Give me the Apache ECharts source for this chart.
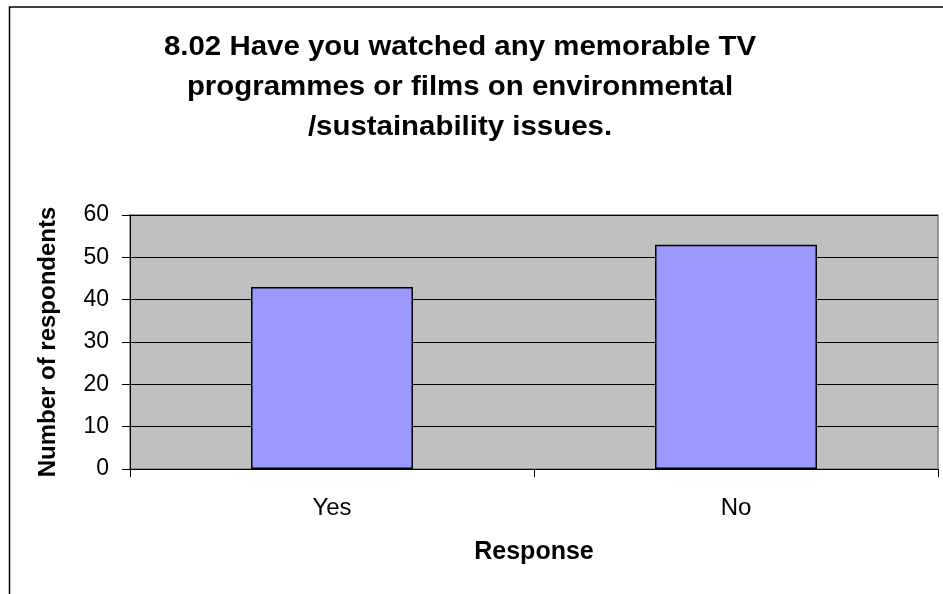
<!DOCTYPE html>
<html>
<head>
<meta charset="utf-8">
<script src="https://cdn.jsdelivr.net/npm/echarts@6/dist/echarts.min.js"></script>
<style>
  html, body { margin: 0; padding: 0; background: #fff; }
  #chart { width: 943px; height: 594px; }
</style>
</head>
<body>
<div id="chart"></div>
<script>
const categories = ['Yes', 'No'];
const respondents = [43, 53];
const yTicks = { min: 0, max: 60, interval: 10 };
const titleText = '8.02 Have you watched any memorable TV\nprogrammes or films on environmental\n/sustainability issues.';
const xName = 'Response';
const yName = 'Number of respondents';

const font = '"Liberation Sans", Arial, sans-serif';
const chart = echarts.init(document.getElementById('chart'));

chart.setOption({
  backgroundColor: '#ffffff',
  animation: false,
  graphic: [
    {
      // outer chart frame
      type: 'rect',
      shape: { x: 9.5, y: 7, width: 1000, height: 700 },
      style: { fill: 'none', stroke: '#000', lineWidth: 1.5 },
      silent: true
    },
    {
      // three-line heading, slightly widened
      type: 'text',
      x: 460,
      y: 28,
      scaleX: 1.09,
      style: {
        text: titleText,
        fontFamily: font,
        fontSize: 27,
        fontWeight: 'bold',
        lineHeight: 40,
        fill: '#000',
        align: 'center',
        verticalAlign: 'top'
      }
    }
  ],
  grid: {
    left: 130,
    top: 215,
    right: 5,
    bottom: 125,
    show: true,
    backgroundColor: '#C0C0C0',
    borderColor: '#808080',
    borderWidth: 1.5
  },
  xAxis: {
    type: 'category',
    data: categories,
    boundaryGap: true,
    name: xName,
    nameLocation: 'middle',
    nameGap: 71,
    nameTextStyle: { fontFamily: font, fontSize: 25, fontWeight: 'bold', color: '#000' },
    axisLine: { show: true, lineStyle: { color: '#000', width: 1 } },
    axisTick: { show: true, alignWithLabel: false, inside: false, length: 8, lineStyle: { color: '#000' } },
    axisLabel: { fontFamily: font, fontSize: 24, color: '#000', margin: 27 },
    splitLine: { show: false }
  },
  yAxis: {
    type: 'value',
    min: yTicks.min,
    max: yTicks.max,
    interval: yTicks.interval,
    name: yName,
    nameLocation: 'middle',
    nameGap: 70,
    nameRotate: 90,
    nameTextStyle: { fontFamily: font, fontSize: 24, fontWeight: 'bold', color: '#000' },
    axisLine: { show: true, lineStyle: { color: '#000', width: 1 } },
    axisTick: { show: true, inside: false, length: 8, lineStyle: { color: '#000' } },
    axisLabel: { fontFamily: font, fontSize: 23, color: '#000', margin: 21 },
    splitLine: { show: true, lineStyle: { color: '#000', width: 1 } }
  },
  series: [
    {
      type: 'bar',
      data: respondents,
      barWidth: 162,
      itemStyle: { color: '#9999FF', borderColor: '#000', borderWidth: 1.5 },
      emphasis: { disabled: true }
    }
  ]
});
</script>
</body>
</html>
